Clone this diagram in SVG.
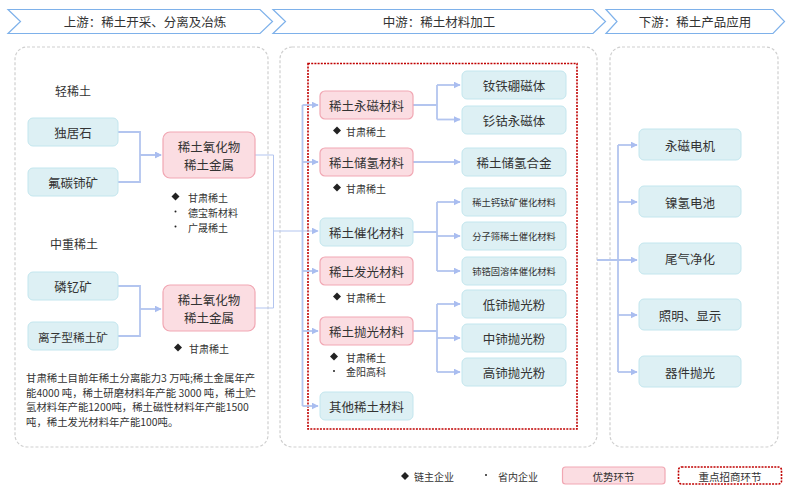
<svg xmlns="http://www.w3.org/2000/svg" width="795" height="495" viewBox="0 0 795 495">
<defs>
<marker id="arr" viewBox="0 0 10 10" refX="9" refY="5" markerWidth="7" markerHeight="7" markerUnits="userSpaceOnUse" orient="auto"><path d="M0,0 L10,5 L0,10 z" fill="#a9bdf0"/></marker>
<style>
text{font-family:"Noto Sans CJK SC","Noto Sans",sans-serif;fill:#333;}
.hdr{fill:#fff;stroke:#7eb1ea;stroke-width:1.2;}
.ht{font-size:12.5px;text-anchor:middle;dominant-baseline:central;}
.panel{fill:#fff;stroke:#cfcfcf;stroke-width:1.2;stroke-dasharray:3 2;}
.cy{fill:#ddf0f4;stroke:#c3e6ee;stroke-width:1;}
.pk{fill:#fbdde2;stroke:#f1a7b3;stroke-width:1.2;}
.nt{font-size:12.5px;text-anchor:middle;dominant-baseline:central;}
.st{font-size:9.3px;text-anchor:middle;dominant-baseline:central;}
.bt{font-size:10px;dominant-baseline:central;}
.pt{font-size:10.4px;}
.lbl{font-size:12px;text-anchor:middle;dominant-baseline:central;}
.c{fill:none;stroke:#b3c5ef;stroke-width:1.8;}
.ct{fill:none;stroke:#b3c5ef;stroke-width:1;}
.dia{fill:#222;}
.red{fill:none;stroke:#c00000;stroke-width:1.6;stroke-dasharray:2 1.2;}
</style>
</defs>
<rect width="795" height="495" fill="#fff"/>

<g id="headers">
<path class="hdr" d="M8,9.5 L260,9.5 L272.5,21.5 L260,33.5 L8,33.5 L20.5,21.5 Z"/>
<text class="ht" x="145" y="21.5">上游：稀土开采、分离及冶炼</text>
<path class="hdr" d="M273,9.5 L593,9.5 L605.5,21.5 L593,33.5 L273,33.5 L285.5,21.5 Z"/>
<text class="ht" x="439" y="21.5">中游：稀土材料加工</text>
<path class="hdr" d="M606,9.5 L773,9.5 L784.5,21.5 L773,33.5 L606,33.5 L617,21.5 Z"/>
<text class="ht" x="695" y="21.5">下游：稀土产品应用</text>
</g>

<g id="panels">
<rect class="panel" x="15" y="47" width="253" height="400" rx="12"/>
<rect class="panel" x="280" y="47" width="317" height="400" rx="12"/>
<rect class="panel" x="610" y="47" width="168" height="400" rx="12"/>
<rect class="red" x="308" y="63.5" width="269" height="365.5"/>
</g>

<g id="connectors">
<path class="c" d="M118,132 H140 V182 H118 M140,155 H161" marker-end="url(#arr)"/>
<path class="c" d="M140,155 H161" marker-end="url(#arr)"/>
<path class="c" d="M118,286 H140 V336 H118"/>
<path class="c" d="M140,309 H161" marker-end="url(#arr)"/>
<path class="ct" d="M255,155 H273.5 V308 H255"/>
<path class="ct" d="M273.5,231 H318" marker-end="url(#arr)"/>
<path class="c" d="M302.5,105 V406"/>
<path class="c" d="M302.5,105 H318" marker-end="url(#arr)"/>
<path class="c" d="M302.5,162 H318" marker-end="url(#arr)"/>
<path class="c" d="M302.5,271 H318" marker-end="url(#arr)"/>
<path class="c" d="M302.5,331 H318" marker-end="url(#arr)"/>
<path class="c" d="M302.5,406 H318" marker-end="url(#arr)"/>
<path class="c" d="M413,105 H437 M437,85 V119.5"/>
<path class="c" d="M437,85 H460" marker-end="url(#arr)"/>
<path class="c" d="M437,119.5 H460" marker-end="url(#arr)"/>
<path class="c" d="M413,162 H460" marker-end="url(#arr)"/>
<path class="c" d="M413,232 H437 M437,202 V271"/>
<path class="c" d="M437,202 H460" marker-end="url(#arr)"/>
<path class="c" d="M437,236 H460" marker-end="url(#arr)"/>
<path class="c" d="M437,271 H460" marker-end="url(#arr)"/>
<path class="c" d="M413,331 H437 M437,304 V372"/>
<path class="c" d="M437,304 H460" marker-end="url(#arr)"/>
<path class="c" d="M437,338 H460" marker-end="url(#arr)"/>
<path class="c" d="M437,372 H460" marker-end="url(#arr)"/>
<path class="c" d="M597,260 H637" marker-end="url(#arr)"/>
<path class="c" d="M618,145 V372"/>
<path class="c" d="M618,145 H637" marker-end="url(#arr)"/>
<path class="c" d="M618,202 H637" marker-end="url(#arr)"/>
<path class="c" d="M618,315 H637" marker-end="url(#arr)"/>
<path class="c" d="M618,372 H637" marker-end="url(#arr)"/>
</g>

<g id="upstream-labels">
<text class="lbl" x="73" y="90">轻稀土</text>
<text class="lbl" x="74" y="243">中重稀土</text>
</g>

<g id="n-dujushi"><rect class="cy" x="28" y="118" width="90" height="28" rx="5"/><text class="nt" x="73" y="132">独居石</text></g>
<g id="n-futanshi"><rect class="cy" x="28" y="168" width="90" height="28" rx="5"/><text class="nt" x="73" y="182">氟碳铈矿</text></g>
<g id="n-oxide1"><rect class="pk" x="163" y="132" width="92" height="46" rx="7"/><text class="nt" x="209" y="146">稀土氧化物</text><text class="nt" x="209" y="164">稀土金属</text></g>
<g id="n-oxide1-ent">
<path class="dia" d="M175.5,192.5 L179.5,196.5 L175.5,200.5 L171.5,196.5 Z"/><text class="bt" x="188" y="197">甘肃稀土</text>
<circle class="dia" cx="175.5" cy="211.5" r="1"/><text class="bt" x="188" y="212">德宝新材料</text>
<circle class="dia" cx="175.5" cy="226.5" r="1"/><text class="bt" x="188" y="227">广晟稀土</text>
</g>
<g id="n-linyi"><rect class="cy" x="28" y="272" width="90" height="28" rx="5"/><text class="nt" x="73" y="286">磷钇矿</text></g>
<g id="n-lizi"><rect class="cy" x="28" y="322" width="90" height="28" rx="5"/><text class="nt" x="73" y="336" style="font-size:11.7px">离子型稀土矿</text></g>
<g id="n-oxide2"><rect class="pk" x="163" y="285" width="92" height="46" rx="7"/><text class="nt" x="209" y="299">稀土氧化物</text><text class="nt" x="209" y="317">稀土金属</text></g>
<g id="n-oxide2-ent">
<path class="dia" d="M178,343.5 L182,347.5 L178,351.5 L174,347.5 Z"/><text class="bt" x="189" y="348">甘肃稀土</text>
</g>
<g id="note">
<text class="pt" x="26" y="382">甘肃稀土目前年稀土分离能力3 万吨;稀土金属年产</text>
<text class="pt" x="26" y="396.5">能4000 吨，稀土研磨材料年产能 3000 吨，稀土贮</text>
<text class="pt" x="26" y="411">氢材料年产能1200吨，稀土磁性材料年产能1500</text>
<text class="pt" x="26" y="425.5">吨，稀土发光材料年产能100吨。</text>
</g>

<g id="m-yongci"><rect class="pk" x="320" y="91" width="93" height="28" rx="5"/><text class="nt" x="366.5" y="105">稀土永磁材料</text></g>
<g id="m-yongci-ent"><path class="dia" d="M337,126.5 L341,130.5 L337,134.5 L333,130.5 Z"/><text class="bt" x="346" y="131">甘肃稀土</text></g>
<g id="m-chuqing"><rect class="pk" x="320" y="148" width="93" height="28" rx="5"/><text class="nt" x="366.5" y="162">稀土储氢材料</text></g>
<g id="m-chuqing-ent"><path class="dia" d="M337,183.5 L341,187.5 L337,191.5 L333,187.5 Z"/><text class="bt" x="346" y="188">甘肃稀土</text></g>
<g id="m-cuihua"><rect class="cy" x="320" y="218" width="93" height="28" rx="5"/><text class="nt" x="366.5" y="232">稀土催化材料</text></g>
<g id="m-faguang"><rect class="pk" x="320" y="257" width="93" height="28" rx="5"/><text class="nt" x="366.5" y="271">稀土发光材料</text></g>
<g id="m-faguang-ent"><path class="dia" d="M337,292.5 L341,296.5 L337,300.5 L333,296.5 Z"/><text class="bt" x="346" y="297">甘肃稀土</text></g>
<g id="m-paoguang"><rect class="pk" x="320" y="317" width="93" height="28" rx="5"/><text class="nt" x="366.5" y="331">稀土抛光材料</text></g>
<g id="m-paoguang-ent"><path class="dia" d="M334,352.5 L338,356.5 L334,360.5 L330,356.5 Z"/><text class="bt" x="346" y="357">甘肃稀土</text><circle class="dia" cx="334" cy="371" r="1"/><text class="bt" x="346" y="371.5">金阳高科</text></g>
<g id="m-qita"><rect class="cy" x="320" y="392" width="93" height="28" rx="5"/><text class="nt" x="366.5" y="406">其他稀土材料</text></g>

<g id="p-ndfeb"><rect class="cy" x="462" y="71" width="104" height="28" rx="5"/><text class="nt" x="514" y="85">钕铁硼磁体</text></g>
<g id="p-smco"><rect class="cy" x="462" y="106" width="104" height="28" rx="5"/><text class="nt" x="514" y="120">钐钴永磁体</text></g>
<g id="p-hejin"><rect class="cy" x="462" y="148" width="104" height="28" rx="5"/><text class="nt" x="514" y="162">稀土储氢合金</text></g>
<g id="p-gaitai"><rect class="cy" x="462" y="188" width="104" height="28" rx="5"/><text class="st" x="514" y="202">稀土钙钛矿催化材料</text></g>
<g id="p-fenzishai"><rect class="cy" x="462" y="222" width="104" height="28" rx="5"/><text class="st" x="514" y="236">分子筛稀土催化材料</text></g>
<g id="p-guronti"><rect class="cy" x="462" y="257" width="104" height="28" rx="5"/><text class="st" x="514" y="271">铈锆固溶体催化材料</text></g>
<g id="p-di"><rect class="cy" x="462" y="290" width="104" height="28" rx="5"/><text class="nt" x="514" y="304">低铈抛光粉</text></g>
<g id="p-zhong"><rect class="cy" x="462" y="324" width="104" height="28" rx="5"/><text class="nt" x="514" y="338">中铈抛光粉</text></g>
<g id="p-gao"><rect class="cy" x="462" y="358" width="104" height="28" rx="5"/><text class="nt" x="514" y="372">高铈抛光粉</text></g>

<g id="d-dianji"><rect class="cy" x="639" y="129" width="102" height="31" rx="5"/><text class="nt" x="690" y="145">永磁电机</text></g>
<g id="d-dianchi"><rect class="cy" x="639" y="186" width="102" height="31" rx="5"/><text class="nt" x="690" y="202">镍氢电池</text></g>
<g id="d-weiqi"><rect class="cy" x="639" y="243" width="102" height="31" rx="5"/><text class="nt" x="690" y="258.5">尾气净化</text></g>
<g id="d-zhaoming"><rect class="cy" x="639" y="299" width="102" height="31" rx="5"/><text class="nt" x="690" y="315">照明、显示</text></g>
<g id="d-qijian"><rect class="cy" x="639" y="356" width="102" height="31" rx="5"/><text class="nt" x="690" y="372">器件抛光</text></g>

<g id="legend">
<path class="dia" d="M405,472 L409,476 L405,480 L401,476 Z"/><text class="bt" x="414" y="476.5">链主企业</text>
<circle class="dia" cx="486" cy="475" r="1"/><text class="bt" x="498" y="476">省内企业</text>
<rect class="pk" x="562.5" y="467" width="102.5" height="17" rx="3"/><text class="nt" x="613.5" y="476" style="font-size:10.5px">优势环节</text>
<rect class="red" x="678.5" y="467" width="103" height="17" rx="3"/><text class="nt" x="730" y="476" style="font-size:10.5px">重点招商环节</text>
</g>
</svg>
